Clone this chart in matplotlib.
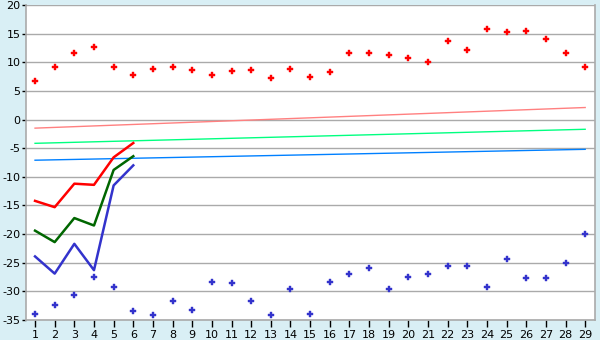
import matplotlib
matplotlib.use("Agg")
import matplotlib.pyplot as plt
import numpy as np

days = list(range(1, 30))

upper_points = [6.7, 9.1, 11.7, 12.6, 9.1, 7.7, 8.8, 9.1, 8.6,
                7.7, 8.4, 8.6, 7.2, 8.8, 7.4, 8.3, 11.6, 11.6, 11.2,
                10.7, 10.0, 13.7, 12.1, 15.8, 15.2, 15.4, 14.0, 11.6, 9.1]
lower_points = [-34.0, -32.4, -30.7, -27.5, -29.3, -33.5, -34.2, -31.6, -33.3,
                -28.4, -28.6, -31.7, -34.2, -29.5, -34.0, -28.4, -27.0, -26.0, -29.5,
                -27.5, -27.0, -25.5, -25.5, -29.3, -24.4, -27.7, -27.7, -25.1, -20.0]

line_days = [1, 2, 3, 4, 5, 6]
red_line = [-14.2, -15.3, -11.2, -11.4, -6.6, -4.1]
green_line = [-19.4, -21.4, -17.2, -18.5, -8.8, -6.4]
blue_line = [-23.9, -26.9, -21.7, -26.3, -11.5, -8.0]

trend_days = [1, 29]
pink_trend = [-1.5, 2.1]
lgreen_trend = [-4.15, -1.7]
lblue_trend = [-7.1, -5.2]

yticks = list(range(-35, 21, 5))

fig = plt.figure(figsize=(6, 3.4), dpi=100)
fig.patch.set_facecolor('#d9eff5')
ax = fig.add_axes([26/600, 1 - 320/340, (595-26)/600, (320-5)/340])
ax.set_facecolor('white')

for y in yticks:
    ax.axhline(y, color='#aaaaaa', lw=1.0, zorder=1)

ax.plot(trend_days, pink_trend, color='#ff8080', lw=1.0, zorder=2)
ax.plot(trend_days, lgreen_trend, color='#00ff80', lw=1.0, zorder=2)
ax.plot(trend_days, lblue_trend, color='#0080ff', lw=1.0, zorder=2)

ax.plot(line_days, red_line, color='#ff0000', lw=1.8, zorder=3)
ax.plot(line_days, green_line, color='#006600', lw=1.8, zorder=3)
ax.plot(line_days, blue_line, color='#3333cc', lw=1.8, zorder=3)

ax.plot(days, upper_points, linestyle='none', marker='P', markersize=5,
        color='#ff0000', markeredgewidth=0.3, zorder=4)
ax.plot(days, lower_points, linestyle='none', marker='P', markersize=5,
        color='#3333cc', markeredgewidth=0.3, zorder=4)

ax.set_xlim(0.54, 29.5)
ax.set_ylim(-35, 20)
ax.set_xticks(days)
ax.set_xticklabels([str(d) for d in days])
ax.set_yticks(yticks)
ax.set_yticklabels([str(y) for y in yticks])
ax.tick_params(axis='both', labelsize=8, colors='black', width=1)
ax.tick_params(axis='y', length=3, pad=1)
ax.tick_params(axis='x', length=5, pad=2)

ax.spines['top'].set_visible(False)
for s in ['left', 'right', 'bottom']:
    ax.spines[s].set_color('#aaaaaa')
    ax.spines[s].set_linewidth(1.2)

fig.savefig('out.png', dpi=100, facecolor=fig.get_facecolor())
